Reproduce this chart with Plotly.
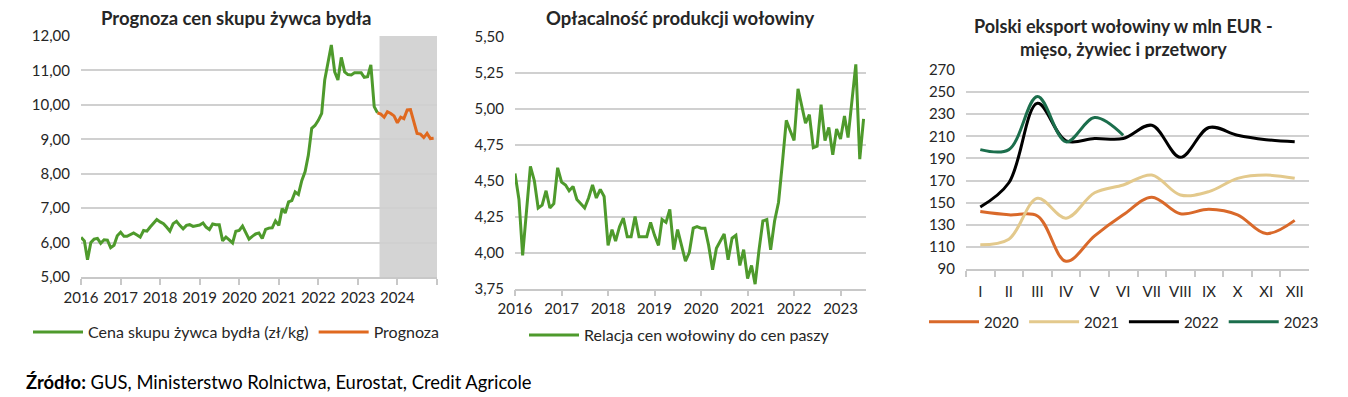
import plotly.graph_objects as go
import pandas as pd

# The page body has an 8 px margin, so the figure is drawn 8 px smaller and
# all layout positions below are given in window pixels, shifted by that margin.
PAGE_W, PAGE_H = 1348, 397
OFF = 8
W, H = PAGE_W - OFF, PAGE_H - OFF

# ---------------- data ----------------
# Left chart: monthly cattle purchase price (zł/kg), Jan 2016 - Jul 2023, forecast Jul 2023 - Dec 2024
price_actual = [
    6.15, 6.05, 5.50, 6.00, 6.10, 6.12, 5.98, 6.08, 6.07, 5.85, 5.92, 6.20,   # 2016
    6.30, 6.18, 6.18, 6.22, 6.28, 6.22, 6.16, 6.35, 6.33, 6.45, 6.55, 6.67,   # 2017
    6.60, 6.55, 6.45, 6.33, 6.55, 6.62, 6.50, 6.40, 6.50, 6.52, 6.47, 6.50,   # 2018
    6.51, 6.57, 6.45, 6.38, 6.54, 6.52, 6.52, 6.05, 6.16, 6.08, 5.99, 6.33,   # 2019
    6.35, 6.48, 6.30, 6.10, 6.18, 6.25, 6.28, 6.12, 6.38, 6.42, 6.43, 6.63,   # 2020
    6.50, 6.99, 6.86, 7.18, 7.22, 7.47, 7.40, 7.80, 8.06, 8.54, 9.32, 9.40,   # 2021
    9.55, 9.75, 10.72, 11.20, 11.74, 10.96, 10.72, 11.38, 10.96, 10.88, 10.87, 10.93,  # 2022
    10.92, 10.93, 10.80, 10.82, 11.16, 9.95, 9.77,                            # 2023 (Jan-Jul)
]
price_forecast = [
    9.77, 9.73, 9.64, 9.80, 9.75, 9.68,                                       # Jul-Dec 2023
    9.48, 9.64, 9.60, 9.85, 9.86, 9.50, 9.17, 9.15, 9.05, 9.17, 9.02, 9.03,   # 2024
]
dates_actual = pd.date_range("2016-01-01", periods=len(price_actual), freq="MS")
dates_forecast = pd.date_range("2023-07-01", periods=len(price_forecast), freq="MS")
forecast_band = ["2023-07-20", "2025-01-01"]

# Middle chart: beef price / feed price ratio, Jan 2016 - Jul 2023
ratio = [
    4.55, 4.37, 3.98, 4.30, 4.60, 4.50, 4.31, 4.33, 4.43, 4.31, 4.34, 4.59,   # 2016
    4.49, 4.47, 4.43, 4.46, 4.37, 4.34, 4.31, 4.38, 4.47, 4.38, 4.44, 4.39,   # 2017
    4.05, 4.16, 4.08, 4.18, 4.24, 4.11, 4.11, 4.25, 4.11, 4.11, 4.11, 4.21,   # 2018
    4.12, 4.05, 4.23, 4.21, 4.30, 4.02, 4.16, 4.05, 3.94, 4.00, 4.17, 4.18,   # 2019
    4.17, 4.17, 4.05, 3.88, 4.03, 4.08, 4.13, 3.95, 4.10, 4.12, 3.91, 4.02,   # 2020
    3.82, 3.91, 3.78, 4.02, 4.22, 4.23, 4.02, 4.22, 4.35, 4.62, 4.92, 4.85,   # 2021
    4.78, 5.14, 5.02, 4.90, 4.96, 4.73, 4.74, 5.03, 4.78, 4.87, 4.68, 4.86,   # 2022
    4.79, 4.95, 4.80, 5.05, 5.31, 4.65, 4.93,                                 # 2023
]
dates_ratio = pd.date_range("2016-01-01", periods=len(ratio), freq="MS")

# Right chart: Polish beef exports, mln EUR
months = ["I", "II", "III", "IV", "V", "VI", "VII", "VIII", "IX", "X", "XI", "XII"]
exp_2020 = [142, 139, 138, 97, 120, 139, 155, 140, 144, 139, 122, 134]
exp_2021 = [112, 117, 154, 136, 159, 166, 175, 157, 160, 172, 175, 172]
exp_2022 = [146, 168, 240, 206, 208, 208, 220, 191, 218, 211, 207, 205]
exp_2023 = [198, 198, 246, 205, 227, 211]

year_ticks = [f"{y}-01-01" for y in range(2016, 2026)]
year_labels_left = [str(y) for y in range(2016, 2025)] + [""]
year_ticks_mid = [f"{y}-01-01" for y in range(2016, 2024)]
year_labels_mid = [str(y) for y in range(2016, 2024)]

# ---------------- style ----------------
FONT = "Lato"
TXT = "#262626"
GREEN = "#4E9A2C"
ORANGE = "#E0691F"
C2020 = "#D9692A"
C2021 = "#E3C98C"
C2022 = "#000000"
C2023 = "#1B6E4C"
GRID = "#D0D0D0"
AXIS = "#C8C8C8"


def fx(px):
    return (px - OFF) / W


def fy(py):
    return 1 - (py - OFF) / H


def px_x(a, b):
    return [fx(a), fx(b)]


def px_y(top, bottom):
    return [fy(bottom), fy(top)]


fig = go.Figure()

# Left chart
fig.add_trace(go.Scatter(x=dates_actual, y=price_actual, mode="lines",
                         line=dict(color=GREEN, width=3), name="Cena skupu żywca bydła (zł/kg)",
                         xaxis="x", yaxis="y", legend="legend"))
fig.add_trace(go.Scatter(x=dates_forecast, y=price_forecast, mode="lines",
                         line=dict(color=ORANGE, width=3), name="Prognoza",
                         xaxis="x", yaxis="y", legend="legend"))
# Middle chart
fig.add_trace(go.Scatter(x=dates_ratio, y=ratio, mode="lines",
                         line=dict(color=GREEN, width=3), name="Relacja cen wołowiny do cen paszy",
                         xaxis="x2", yaxis="y2", legend="legend2"))
# Right chart
for name, vals, col in [("2020", exp_2020, C2020), ("2021", exp_2021, C2021),
                        ("2022", exp_2022, C2022), ("2023", exp_2023, C2023)]:
    fig.add_trace(go.Scatter(x=months[:len(vals)], y=vals, mode="lines",
                             line=dict(color=col, width=3, shape="spline", smoothing=1.0),
                             name=name, xaxis="x3", yaxis="y3", legend="legend3"))

tickfont = dict(family=FONT, size=15, color=TXT)
common_y = dict(showgrid=True, gridcolor=GRID, gridwidth=1.5, zeroline=False, showline=False,
                ticks="", tickfont=tickfont, ticklabelstandoff=10, automargin=False)
common_x = dict(showgrid=False, zeroline=False, showline=True, linecolor=AXIS, linewidth=1.5,
                ticks="outside", ticklen=6, tickcolor=AXIS, tickwidth=1.5, tickfont=tickfont,
                tickangle=0, automargin=False)

fig.update_layout(
    width=W, height=H,
    margin=dict(l=0, r=0, t=0, b=0, autoexpand=False),
    paper_bgcolor="white", plot_bgcolor="white",
    separators=",.",
    font=dict(family=FONT, color=TXT),
    xaxis=dict(domain=px_x(81, 437), type="date", range=["2016-01-01", "2025-01-01"],
               tickvals=year_ticks, ticktext=year_labels_left, anchor="y", **common_x),
    yaxis=dict(domain=px_y(36, 277), range=[5, 12], tickvals=[5, 6, 7, 8, 9, 10, 11, 12],
               tickformat=".2f", anchor="x", **common_y),
    xaxis2=dict(domain=px_x(515, 866), type="date", range=["2016-01-01", "2023-07-20"],
                tickvals=year_ticks_mid, ticktext=year_labels_mid, anchor="y2", **common_x),
    yaxis2=dict(domain=px_y(37, 288.5), range=[3.75, 5.5],
                tickvals=[3.75, 4.0, 4.25, 4.5, 4.75, 5.0, 5.25, 5.5],
                tickformat=".2f", anchor="x2", **common_y),
    xaxis3=dict(domain=px_x(966, 1309), type="category", range=[-0.5, 11.5],
                categoryorder="array", categoryarray=months, tickson="boundaries",
                anchor="y3", ticklabelstandoff=8, **common_x),
    yaxis3=dict(domain=px_y(70, 269), range=[90, 270], tickvals=list(range(90, 271, 20)),
                anchor="x3", **common_y),
    legend=dict(orientation="h", x=fx(28), y=fy(332), xanchor="left", yanchor="middle",
                font=dict(family=FONT, size=16, color=TXT), itemwidth=50,
                bgcolor="rgba(0,0,0,0)", tracegroupgap=0),
    legend2=dict(orientation="h", x=fx(524), y=fy(335), xanchor="left", yanchor="middle",
                 font=dict(family=FONT, size=16, color=TXT), itemwidth=50,
                 bgcolor="rgba(0,0,0,0)"),
    legend3=dict(orientation="h", x=fx(924), y=fy(322), xanchor="left", yanchor="middle",
                 font=dict(family=FONT, size=15, color=TXT), itemwidth=50,
                 bgcolor="rgba(0,0,0,0)"),
    shapes=[dict(type="rect", xref="x", yref="y", x0=forecast_band[0], x1=forecast_band[1],
                 y0=5, y1=12, fillcolor="#D4D4D4", line=dict(width=0), layer="below")],
    annotations=[
        dict(text="<b>Prognoza cen skupu żywca bydła</b>", x=fx(236), y=fy(18),
             xref="paper", yref="paper", showarrow=False, xanchor="center", yanchor="middle",
             font=dict(family=FONT, size=18.5, color=TXT)),
        dict(text="<b>Opłacalność produkcji wołowiny</b>", x=fx(680), y=fy(18),
             xref="paper", yref="paper", showarrow=False, xanchor="center", yanchor="middle",
             font=dict(family=FONT, size=18.5, color=TXT)),
        dict(text="<b>Polski eksport wołowiny w mln EUR -<br>mięso, żywiec i przetwory</b>",
             x=fx(1123), y=fy(38), xref="paper", yref="paper", showarrow=False,
             xanchor="center", yanchor="middle", align="center",
             font=dict(family=FONT, size=18, color=TXT)),
        dict(text="<b>Źródło:</b> GUS, Ministerstwo Rolnictwa, Eurostat, Credit Agricole",
             x=fx(24), y=fy(382), xref="paper", yref="paper", showarrow=False,
             xanchor="left", yanchor="middle", font=dict(family=FONT, size=18.4, color="#000000")),
    ],
)

fig.write_html("out.html")
